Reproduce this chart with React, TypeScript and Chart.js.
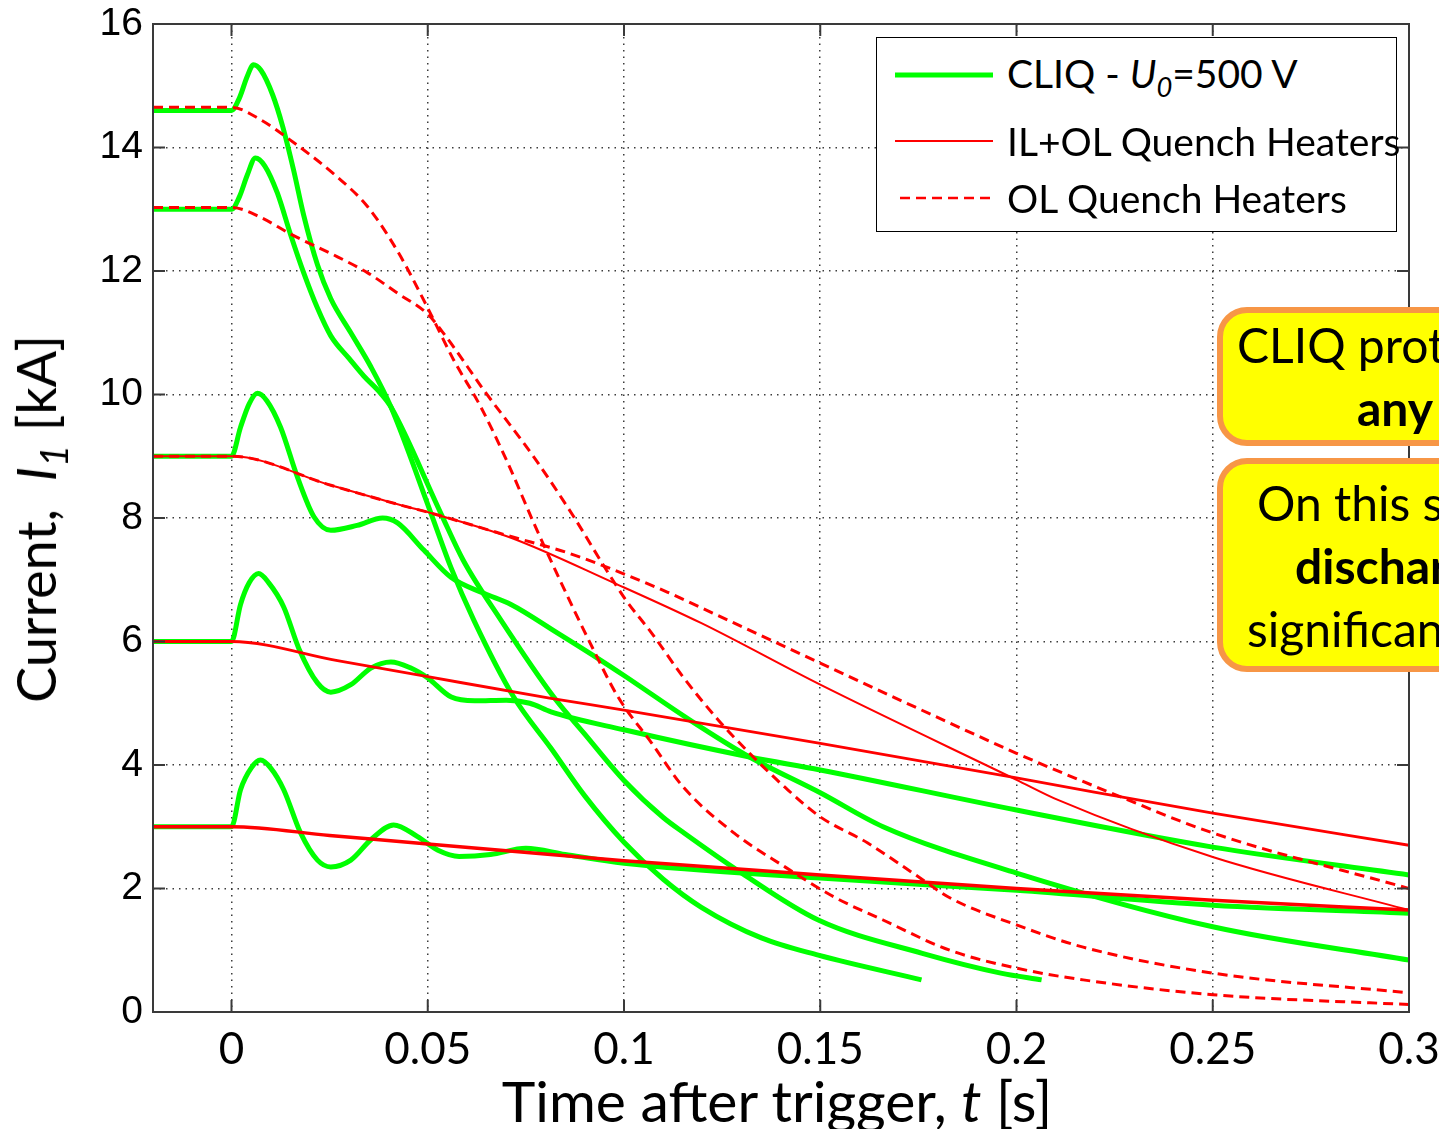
import React, { useEffect, useRef } from "react";
import { Chart, registerables } from "chart.js";

Chart.register(...registerables);

// ---- axes ----
const X_MIN = -0.02;
const X_MAX = 0.3;
const Y_MIN = 0;
const Y_MAX = 16;
const X_TICKS = [0, 0.05, 0.1, 0.15, 0.2, 0.25, 0.3];
const Y_TICKS = [0, 2, 4, 6, 8, 10, 12, 14, 16];

// ---- CLIQ - U0 = 500 V (green) ----
const cliq146T = [-0.02, 0, 0.002, 0.004, 0.0056, 0.0075, 0.0105, 0.013, 0.0158, 0.0184, 0.0219, 0.0253, 0.0304, 0.0355, 0.0406, 0.0508, 0.0559, 0.0617, 0.0719, 0.0814, 0.09, 0.1, 0.11, 0.1196, 0.135, 0.1495, 0.1758];
const cliq146I = [14.6, 14.6, 14.8, 15.15, 15.34, 15.25, 14.85, 14.35, 13.64, 12.9, 12.1, 11.55, 11.0, 10.45, 9.8, 8.08, 7.2, 6.35, 5.1, 4.27, 3.5, 2.75, 2.15, 1.7, 1.2, 0.92, 0.52];

const cliq130T = [-0.02, 0, 0.002, 0.004, 0.0061, 0.0085, 0.0117, 0.015, 0.0184, 0.0219, 0.0253, 0.03, 0.0337, 0.038, 0.0406, 0.0533, 0.059, 0.0686, 0.0821, 0.09, 0.1, 0.11, 0.1153, 0.13, 0.1495, 0.176, 0.196, 0.2064];
const cliq130I = [13.0, 13.0, 13.2, 13.55, 13.83, 13.7, 13.26, 12.6, 11.97, 11.4, 10.95, 10.58, 10.3, 10.02, 9.8, 8.08, 7.32, 6.35, 5.1, 4.5, 3.75, 3.15, 2.9, 2.25, 1.49, 0.95, 0.63, 0.52];

const cliq90T = [-0.02, 0, 0.0023, 0.0045, 0.0066, 0.009, 0.0125, 0.0168, 0.021, 0.0253, 0.032, 0.0385, 0.0423, 0.049, 0.0559, 0.0643, 0.0712, 0.083, 0.094, 0.1, 0.117, 0.132, 0.15, 0.166, 0.2, 0.25, 0.3];
const cliq90I = [9.0, 9.0, 9.47, 9.85, 10.02, 9.9, 9.47, 8.66, 8.02, 7.8, 7.88, 8.0, 7.92, 7.48, 7.04, 6.78, 6.6, 6.14, 5.7, 5.45, 4.72, 4.13, 3.55, 3.0, 2.25, 1.38, 0.84];

const cliq60T = [-0.02, 0, 0.0023, 0.0045, 0.0069, 0.0095, 0.0133, 0.0172, 0.0219, 0.0253, 0.0304, 0.0355, 0.0406, 0.0457, 0.05, 0.056, 0.062, 0.07, 0.076, 0.0814, 0.1, 0.132, 0.15, 0.2, 0.25, 0.3];
const cliq60I = [6.0, 6.0, 6.6, 6.95, 7.1, 6.95, 6.56, 5.88, 5.33, 5.18, 5.3, 5.57, 5.67, 5.57, 5.41, 5.1, 5.04, 5.05, 5.0, 4.86, 4.57, 4.13, 3.92, 3.27, 2.67, 2.22];

const cliq30T = [-0.02, 0, 0.0023, 0.005, 0.0074, 0.01, 0.0133, 0.0176, 0.0219, 0.0253, 0.0304, 0.0355, 0.0413, 0.0474, 0.0526, 0.058, 0.066, 0.075, 0.085, 0.1, 0.15, 0.2, 0.25, 0.3];
const cliq30I = [3.0, 3.0, 3.6, 3.95, 4.08, 3.95, 3.6, 2.9, 2.46, 2.35, 2.46, 2.79, 3.03, 2.84, 2.62, 2.52, 2.55, 2.65, 2.55, 2.41, 2.17, 1.97, 1.73, 1.6];

// ---- IL+OL Quench Heaters (red solid) ----
const ilol90T = [-0.02, 0, 0.0253, 0.043, 0.0508, 0.0712, 0.0974, 0.1196, 0.15, 0.2, 0.2107, 0.25, 0.3];
const ilol90I = [9.0, 9.0, 8.53, 8.21, 8.08, 7.68, 6.95, 6.3, 5.3, 3.76, 3.43, 2.51, 1.65];

const ilol60T = [-0.02, 0, 0.027, 0.05, 0.0814, 0.1, 0.15, 0.2, 0.25, 0.3];
const ilol60I = [6.0, 6.0, 5.69, 5.43, 5.08, 4.89, 4.35, 3.79, 3.22, 2.7];

const ilol30T = [-0.02, 0, 0.025, 0.05, 0.1, 0.15, 0.2, 0.25, 0.3];
const ilol30I = [3.0, 3.0, 2.86, 2.72, 2.45, 2.22, 2.0, 1.81, 1.65];

// ---- OL Quench Heaters (red dashed) ----
const ol146T = [-0.02, 0, 0.0074, 0.015, 0.027, 0.0347, 0.0425, 0.05, 0.0566, 0.0635, 0.0704, 0.077, 0.084, 0.0908, 0.0985, 0.107, 0.115, 0.128, 0.141, 0.1536, 0.166, 0.183, 0.2, 0.217, 0.25, 0.3];
const ol146I = [14.65, 14.65, 14.45, 14.12, 13.52, 13.04, 12.3, 11.4, 10.56, 9.8, 8.89, 7.92, 6.95, 6.05, 5.1, 4.36, 3.65, 2.9, 2.35, 1.86, 1.49, 1.0, 0.71, 0.52, 0.28, 0.12];

const ol130T = [-0.02, 0, 0.0074, 0.015, 0.027, 0.0347, 0.0423, 0.05, 0.0545, 0.0643, 0.077, 0.0872, 0.095, 0.1005, 0.107, 0.115, 0.124, 0.132, 0.141, 0.15, 0.162, 0.175, 0.183, 0.2, 0.217, 0.25, 0.3];
const ol130I = [13.03, 13.03, 12.87, 12.6, 12.23, 11.97, 11.64, 11.3, 10.95, 10.07, 8.99, 8.02, 7.21, 6.67, 6.14, 5.43, 4.73, 4.19, 3.64, 3.16, 2.74, 2.19, 1.85, 1.41, 1.05, 0.63, 0.31];

const ol90T = [-0.02, 0, 0.0253, 0.043, 0.0508, 0.0712, 0.085, 0.0974, 0.111, 0.128, 0.15, 0.183, 0.2, 0.224, 0.25, 0.3];
const ol90I = [9.0, 9.0, 8.53, 8.21, 8.08, 7.7, 7.45, 7.16, 6.8, 6.3, 5.65, 4.68, 4.19, 3.55, 2.9, 2.0];

const GREEN = "#00ff00";
const RED = "#ff0000";

function pts(t: number[], v: number[]) {
  return t.map((x, i) => ({ x, y: v[i] }));
}

function line(t: number[], v: number[], color: string, width: number, dash: number[] = []) {
  return {
    data: pts(t, v),
    borderColor: color,
    backgroundColor: color,
    borderWidth: width,
    borderDash: dash,
    pointRadius: 0,
    pointHoverRadius: 0,
    fill: false,
    cubicInterpolationMode: "monotone" as const,
    borderJoinStyle: "round" as const,
  };
}

const framePlugin = {
  id: "frame",
  afterDraw(chart: any) {
    const { ctx, chartArea: a, scales } = chart;
    const xs = scales.x;
    const ys = scales.y;
    ctx.save();
    ctx.strokeStyle = "#3a3a3a";
    ctx.lineWidth = 2;
    ctx.strokeRect(a.left, a.top, a.right - a.left, a.bottom - a.top);
    const L = 12;
    ctx.beginPath();
    for (const v of X_TICKS) {
      const px = xs.getPixelForValue(v);
      ctx.moveTo(px, a.bottom);
      ctx.lineTo(px, a.bottom - L);
      ctx.moveTo(px, a.top);
      ctx.lineTo(px, a.top + L);
    }
    for (const v of Y_TICKS) {
      const py = ys.getPixelForValue(v);
      ctx.moveTo(a.left, py);
      ctx.lineTo(a.left + L, py);
      ctx.moveTo(a.right, py);
      ctx.lineTo(a.right - L, py);
    }
    ctx.stroke();
    ctx.restore();
  },
};

export default function App() {
  const ref = useRef<HTMLCanvasElement>(null);

  useEffect(() => {
    if (!ref.current) return;
    const datasets: any[] = [
      // red drawn on top (first datasets are drawn last)
      line(ilol30T, ilol30I, RED, 3.5),
      line(ilol60T, ilol60I, RED, 2.8),
      line(ilol90T, ilol90I, RED, 2),
      line(ol146T, ol146I, RED, 3, [10, 6]),
      line(ol130T, ol130I, RED, 3, [10, 6]),
      line(ol90T, ol90I, RED, 3, [10, 6]),
      line(cliq146T, cliq146I, GREEN, 5),
      line(cliq130T, cliq130I, GREEN, 5),
      line(cliq90T, cliq90I, GREEN, 5),
      line(cliq60T, cliq60I, GREEN, 5),
      line(cliq30T, cliq30I, GREEN, 5),
    ];
    const chart = new Chart(ref.current, {
      type: "line",
      data: { datasets },
      plugins: [framePlugin],
      options: {
        animation: false,
        responsive: false,
        events: [],
        layout: { padding: { left: 0, right: 30, top: 24, bottom: 0 }, autoPadding: false } as any,
        plugins: { legend: { display: false }, tooltip: { enabled: false } },
        scales: {
          x: {
            type: "linear",
            min: X_MIN,
            max: X_MAX,
            afterBuildTicks: (s: any) => {
              s.ticks = X_TICKS.map((v) => ({ value: v }));
            },
            afterFit: (s: any) => {
              s.height = 117;
              s.paddingLeft = 0;
              s.paddingRight = 0;
            },
            ticks: {
              color: "#000",
              padding: 11,
              maxRotation: 0,
              autoSkip: false,
              font: { family: "Lato", size: 44, lineHeight: 1.2 },
              callback: (v: any) => String(+Number(v).toFixed(2)),
            },
            grid: { color: "rgba(50,50,50,0.95)", lineWidth: 1.5, drawTicks: false },
            border: { display: false, dash: [1.5, 5] },
          },
          y: {
            type: "linear",
            min: Y_MIN,
            max: Y_MAX,
            afterBuildTicks: (s: any) => {
              s.ticks = Y_TICKS.map((v) => ({ value: v }));
            },
            afterFit: (s: any) => {
              s.width = 153;
              s.paddingTop = 0;
              s.paddingBottom = 0;
            },
            ticks: {
              color: "#000",
              padding: 10,
              autoSkip: false,
              font: { family: "Liberation Sans", size: 39, lineHeight: 1.2 },
            },
            grid: { color: "rgba(50,50,50,0.95)", lineWidth: 1.5, drawTicks: false },
            border: { display: false, dash: [1.5, 5] },
          },
        },
      } as any,
    });
    return () => chart.destroy();
  }, []);

  const lato = "Lato, 'Open Sans', sans-serif";
  const abs = (s: React.CSSProperties): React.CSSProperties => ({ position: "absolute", whiteSpace: "nowrap", ...s });
  const sub: React.CSSProperties = { fontSize: "0.7em", fontStyle: "italic", verticalAlign: "-0.32em", lineHeight: 0 };
  const boxText = (left: number, top: number, text: string, bold = false) => (
    <div style={abs({ left, top, font: `${bold ? 700 : 400} 48px ${lato}`, lineHeight: "48px", color: "#000" })}>{text}</div>
  );

  return (
    <div style={{ position: "fixed", left: 0, top: 0, width: 1439, height: 1129, overflow: "hidden", background: "#fff", fontFamily: lato }}>
      <canvas ref={ref} width={1439} height={1129} style={{ position: "absolute", left: 0, top: 0, width: 1439, height: 1129 }} />

      {/* y axis title */}
      <div style={abs({ left: 36, top: 519, transform: "translate(-50%, -50%) rotate(-90deg)", font: `54px ${lato}`, lineHeight: "54px", color: "#000" })}>
        Current,&nbsp; <i>I</i><span style={sub}>1</span> [kA]
      </div>

      {/* x axis title */}
      <div style={abs({ left: 777, top: 1072, transform: "translateX(-50%)", font: `57px ${lato}`, lineHeight: "57px", color: "#000" })}>
        Time after trigger, <i>t</i> [s]
      </div>

      {/* legend */}
      <div style={abs({ left: 876, top: 37, width: 521, height: 195, border: "1.5px solid #000", boxSizing: "border-box", background: "#fff" })} />
      <svg style={{ position: "absolute", left: 895, top: 60 }} width={98} height={150}>
        <line x1={0} y1={15} x2={98} y2={15} stroke={GREEN} strokeWidth={5} />
        <line x1={0} y1={81} x2={98} y2={81} stroke={RED} strokeWidth={2} />
        <line x1={5} y1={138} x2={98} y2={138} stroke={RED} strokeWidth={2.5} strokeDasharray="10 6" />
      </svg>
      <div style={abs({ left: 1007, top: 54, font: `39px ${lato}`, lineHeight: "39px", color: "#000" })}>
        CLIQ - <i>U</i><span style={sub}>0</span>=500 V
      </div>
      <div style={abs({ left: 1007, top: 122, font: `39px ${lato}`, lineHeight: "39px", color: "#000" })}>IL+OL Quench Heaters</div>
      <div style={abs({ left: 1007, top: 179, font: `39px ${lato}`, lineHeight: "39px", color: "#000" })}>OL Quench Heaters</div>

      {/* callout boxes (cut off at the right edge) */}
      <div style={abs({ left: 1217, top: 307, width: 400, height: 139, background: "#ffff00", border: "6px solid #f79646", borderRadius: 30, boxSizing: "border-box" })} />
      <div style={abs({ left: 1217, top: 458, width: 400, height: 214, background: "#ffff00", border: "6px solid #f79646", borderRadius: 30, boxSizing: "border-box" })} />
      {boxText(1237, 321, "CLIQ protects")}
      {boxText(1357, 384, "any current", true)}
      {boxText(1257, 479, "On this slide")}
      {boxText(1295, 542, "discharge", true)}
      {boxText(1247, 605, "significantly")}
    </div>
  );
}
